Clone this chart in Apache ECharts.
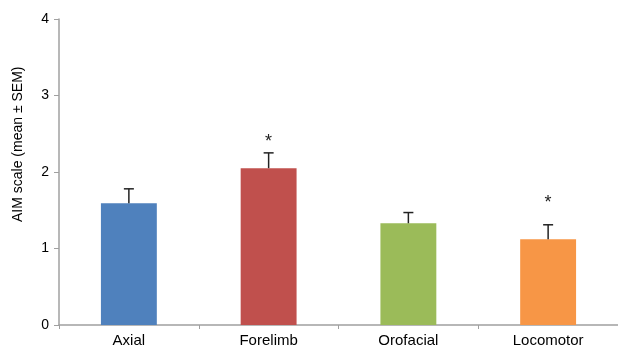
<!DOCTYPE html>
<html><head><meta charset="utf-8">
<script src="https://cdn.jsdelivr.net/npm/echarts@6/dist/echarts.min.js"></script>
<style>html,body{margin:0;padding:0;background:#fff}#c{width:618px;height:350px}</style>
</head><body><div id="c"></div>
<script>
const categories = ['Axial', 'Forelimb', 'Orofacial', 'Locomotor'];
const means = [1.59, 2.05, 1.33, 1.12];
const sems = [0.19, 0.20, 0.14, 0.19];
const starPositions = [null, 2.39, null, 1.60];
const colors = ['#4F81BD', '#C0504D', '#9BBB59', '#F79646'];
const yTicks = [0, 1, 2, 3, 4];

const chart = echarts.init(document.getElementById('c'));
const font = 'Liberation Sans, Arial, sans-serif';
chart.setOption({
  animation: false,
  grid: { left: 59, right: 0, top: 19, bottom: 25 },
  xAxis: {
    type: 'category', data: categories,
    axisLine: { lineStyle: { color: '#a0a0a0', width: 1.5 } },
    axisTick: { show: true, length: 4, lineStyle: { color: '#a0a0a0' } },
    axisLabel: { color: '#000', fontSize: 15, fontFamily: font, margin: 8 }
  },
  yAxis: {
    type: 'value', min: yTicks[0], max: yTicks[yTicks.length - 1], interval: 1,
    axisLine: { show: true, lineStyle: { color: '#a0a0a0', width: 1.5 } },
    axisTick: { show: true, length: 5, lineStyle: { color: '#a0a0a0' } },
    axisLabel: { color: '#000', fontSize: 14, fontFamily: font, margin: 10 },
    splitLine: { show: false }
  },
  graphic: [{
    type: 'text', left: 10, top: 67, rotation: Math.PI / 2,
    style: { text: 'AIM scale (mean ± SEM)', fill: '#000', font: '14px ' + font },
    x: 11, y: 222, left: null, top: null, originX: 0, originY: 0
  }],
  series: [
    {
      type: 'bar', barWidth: '40%',
      data: means.map((v, i) => ({ value: v, itemStyle: { color: colors[i] } }))
    },
    {
      type: 'custom', z: 5,
      data: means.map((v, i) => [i, v, v + sems[i]]),
      renderItem: function (params, api) {
        const x = api.value(0);
        const p0 = api.coord([x, api.value(1)]);
        const p1 = api.coord([x, api.value(2)]);
        const hw = 5;
        return {
          type: 'group', children: [
            { type: 'line', shape: { x1: p0[0], y1: p0[1], x2: p1[0], y2: p1[1] }, style: { stroke: '#222', lineWidth: 1.5 } },
            { type: 'line', shape: { x1: p1[0] - hw, y1: p1[1], x2: p1[0] + hw, y2: p1[1] }, style: { stroke: '#222', lineWidth: 1.5 } }
          ]
        };
      }
    },
    {
      type: 'custom', z: 6,
      data: starPositions.map((v, i) => v == null ? null : [i, v]).filter(d => d),
      renderItem: function (params, api) {
        const p = api.coord([api.value(0), api.value(1)]);
        return { type: 'text', x: p[0], y: p[1], style: { text: '*', fill: '#222', font: '18px ' + font, align: 'center', verticalAlign: 'middle' } };
      }
    }
  ]
});
</script></body></html>
